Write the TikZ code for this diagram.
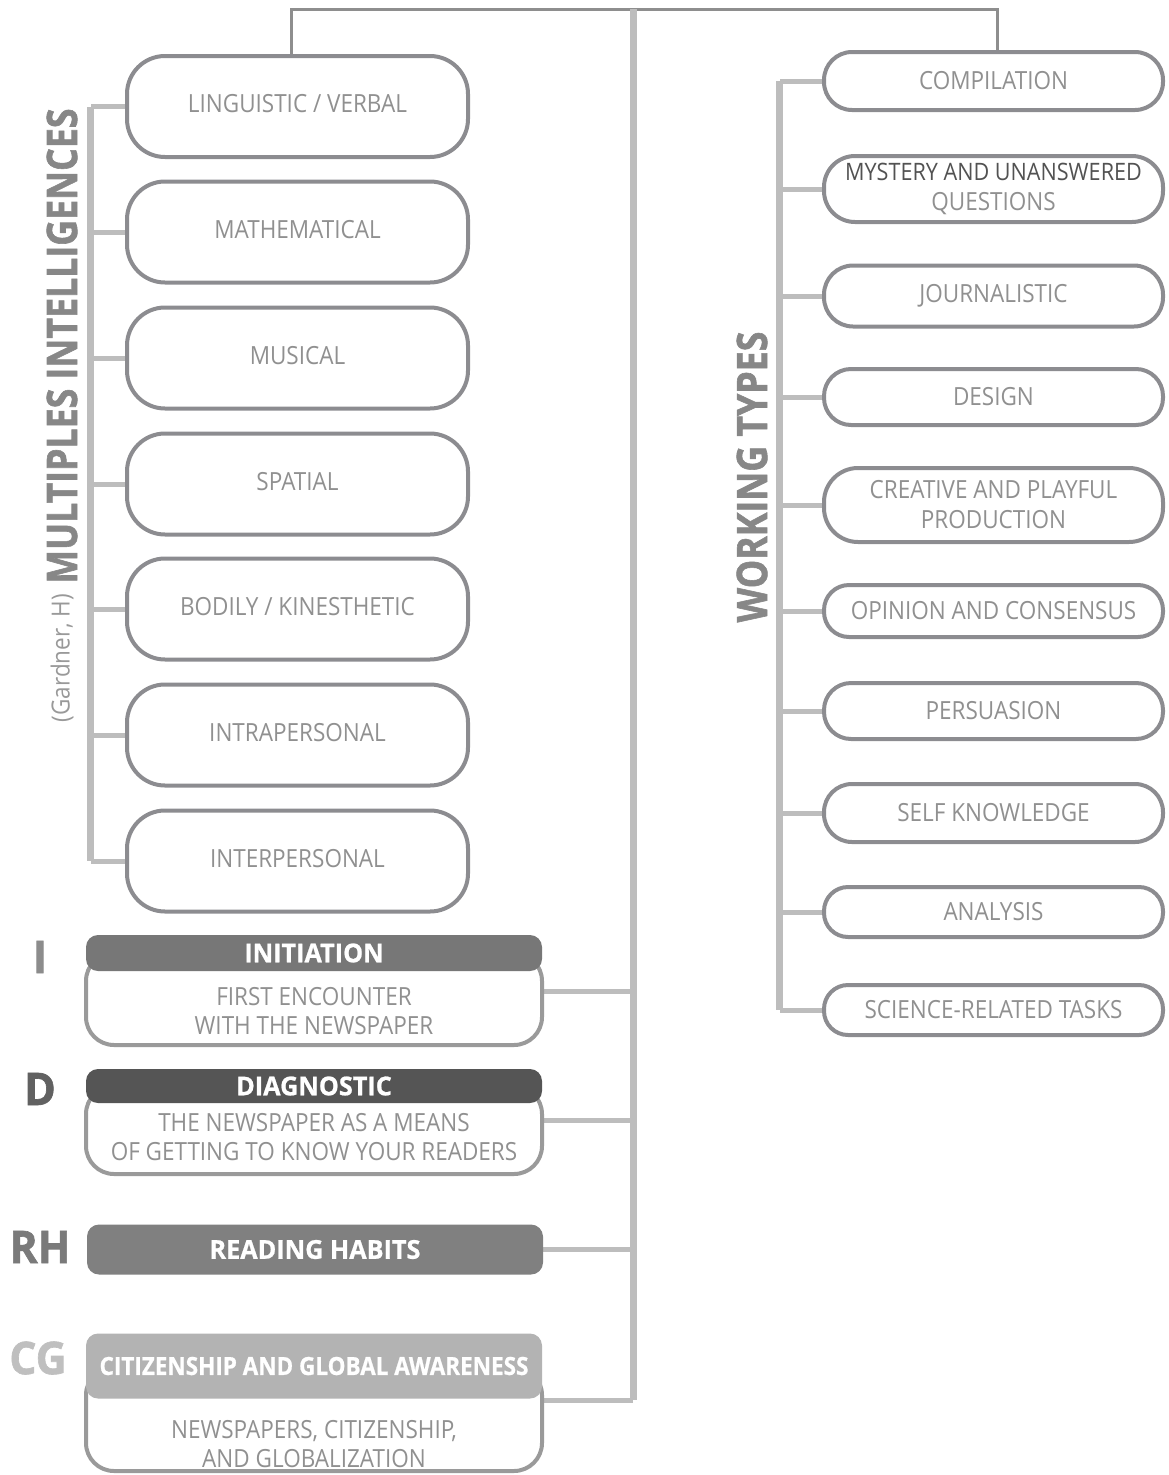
\documentclass[tikz,border=0pt]{standalone}
\usepackage{fontspec}
\setmainfont{Open Sans}
\newfontfamily\lightf[FakeStretch=0.9]{Open Sans}
\newfontfamily\boldf[FakeStretch=0.9,BoldFeatures={FakeBold=0.8}]{Open Sans}
\newfontfamily\boldw[FakeStretch=0.97,BoldFeatures={FakeBold=0.8}]{Open Sans}
\newfontfamily\heavyf[FakeStretch=0.85,BoldFeatures={FakeBold=1.4}]{Open Sans}
\newfontfamily\letf[FakeStretch=0.95,BoldFeatures={FakeBold=1.4}]{Open Sans}
\usetikzlibrary{backgrounds}
\definecolor{boxc}{HTML}{8C8C90}
\definecolor{barc}{HTML}{BDBDBD}
\definecolor{topc}{HTML}{8E8E8E}
\definecolor{txtc}{HTML}{909090}
\definecolor{titc}{HTML}{878787}
\definecolor{bodyc}{HTML}{9A9A9A}
\definecolor{hdrI}{HTML}{777777}
\definecolor{hdrD}{HTML}{555555}
\definecolor{hdrR}{HTML}{808080}
\definecolor{hdrC}{HTML}{B3B3B3}
\tikzset{
  lbox/.style={draw=boxc, line width=4pt, rounded corners=38pt, minimum width=341pt,
    minimum height=101pt, inner sep=0pt, fill=white, text=txtc,
    text height=18pt, text depth=6pt,
    font=\lightf\fontsize{25}{30}\selectfont},
  rbox/.style={draw=boxc, line width=4pt, minimum width=339pt,
    inner sep=0pt, fill=white, text=txtc, align=center,
    font=\lightf\fontsize{25}{30}\selectfont},
  vbar/.style={draw=barc, line width=7pt},
  branch/.style={draw=barc, line width=5pt},
  topline/.style={draw=topc, line width=3pt},
  hdr/.style={rounded corners=12pt, minimum width=456pt, inner sep=0pt, text=white,
    font=\boldw\bfseries\fontsize{26}{28}\selectfont},
  bodybox/.style={draw=bodyc, line width=4pt, fill=white, rounded corners=28pt,
    minimum width=456pt, inner sep=0pt},
  btxt/.style={text=txtc, align=center, inner sep=0pt, font=\lightf\fontsize{25}{29}\selectfont},
  vtitle/.style={rotate=90, text=titc, inner sep=0pt, font=\heavyf\bfseries\fontsize{42}{42}\selectfont},
  letter/.style={inner sep=0pt, font=\letf\bfseries\fontsize{45}{45}\selectfont},
}
\begin{document}
\begin{tikzpicture}[x=1pt,y=-1pt]
\useasboundingbox (0,0) rectangle (1168,1475);

% left column boxes
\node[lbox] (l1) at (297.5,106.5) {LINGUISTIC / VERBAL};
\node[lbox] (l2) at (297.5,232) {MATHEMATICAL};
\node[lbox] (l3) at (297.5,358) {MUSICAL};
\node[lbox] (l4) at (297.5,484) {SPATIAL};
\node[lbox] (l5) at (297.5,609) {BODILY / KINESTHETIC};
\node[lbox] (l6) at (297.5,735) {INTRAPERSONAL};
\node[lbox] (l7) at (297.5,861) {INTERPERSONAL};

% right column boxes
\node[rbox, minimum height=58pt, rounded corners=28pt] (r1) at (993.5,81) {COMPILATION};
\node[rbox, minimum height=66pt, rounded corners=31pt] (r2) at (993.5,189) {{\fontsize{24}{30}\selectfont\textcolor{black!68}{MYSTERY AND UNANSWERED}}\\QUESTIONS};
\node[rbox, minimum height=61pt, rounded corners=29pt] (r3) at (993.5,296) {JOURNALISTIC};
\node[rbox, minimum height=56pt, rounded corners=27pt] (r4) at (993.5,397) {DESIGN};
\node[rbox, minimum height=74pt, rounded corners=34pt] (r5) at (993.5,505) {CREATIVE AND PLAYFUL\\PRODUCTION};
\node[rbox, minimum height=52pt, rounded corners=25pt] (r6) at (993.5,611) {OPINION AND CONSENSUS};
\node[rbox, minimum height=56pt, rounded corners=27pt] (r7) at (993.5,711) {PERSUASION};
\node[rbox, minimum height=58pt, rounded corners=28pt] (r8) at (993.5,813) {SELF KNOWLEDGE};
\node[rbox, minimum height=50pt, rounded corners=24pt] (r9) at (993.5,912) {ANALYSIS};
\node[rbox, minimum height=50pt, rounded corners=24pt] (r10) at (993.5,1010) {SCIENCE-RELATED TASKS};

% titles
\node[vtitle] (tmi) at (62,346) {MULTIPLES INTELLIGENCES};
\node[vtitle, text=black!40, font=\lightf\fontsize{25}{25}\selectfont] (tg) at (62,658) {(Gardner, H)};
\node[vtitle] (twt) at (752,477) {WORKING TYPES};

% bottom boxes
\node[bodybox, minimum height=92pt] (bI) at (314,999) {};
\node[hdr, fill=hdrI, minimum height=36pt] (hI) at (314,953) {INITIATION};
\node[btxt] (xI) at (314,1011.5) {FIRST ENCOUNTER\\WITH THE NEWSPAPER};

\node[bodybox, minimum height=88pt] (bD) at (314,1130) {};
\node[hdr, fill=hdrD, minimum height=34pt] (hD) at (314,1086) {DIAGNOSTIC};
\node[btxt] (xD) at (314,1137.5) {THE NEWSPAPER AS A MEANS\\OF GETTING TO KNOW YOUR READERS};

\node[hdr, fill=hdrR, minimum height=50pt, minimum width=456pt] (hR) at (315,1249.5) {READING HABITS};

\node[bodybox, minimum height=104pt] (bC) at (314,1419) {};
\node[hdr, fill=hdrC, minimum height=65pt, font=\boldf\bfseries\fontsize{25}{28}\selectfont] (hC) at (314,1366) {CITIZENSHIP AND GLOBAL AWARENESS};
\node[btxt] (xC) at (314,1444) {NEWSPAPERS, CITIZENSHIP,\\AND GLOBALIZATION};

% letters
\node[letter, text=black!45] (kI) at (40,957) {I};
\node[letter, text=black!62] (kD) at (40,1089) {D};
\node[letter, text=black!52] (kR) at (40,1247) {RH};
\node[letter, text=black!25] (kC) at (38,1358) {CG};

% connectors
\coordinate (lb) at (90.5,0);
\coordinate (rb) at (779.5,0);
\coordinate (ctop) at (633,9);
\coordinate (cbot) at (633,1400);
\begin{pgfonlayer}{background}
  \draw[topline] ([xshift=-6.5pt]l1.north) -- ([xshift=-6.5pt]l1.north |- ctop) -| ([xshift=3.5pt]r1.north);
  \draw[vbar] (ctop) -- (cbot);
  \draw[branch] (cbot) -- ([yshift=19pt]bC.east);
  \draw[branch] ([yshift=8pt]bI.east) -- ([yshift=8pt]bI.east -| ctop);
  \draw[branch] ([yshift=10pt]bD.east) -- ([yshift=10pt]bD.east -| ctop);
  \draw[branch] (hR.east) -- (hR.east -| ctop);
  \draw[vbar] (l1.west -| lb) -- (l7.west -| lb);
  \foreach \n in {l1,l2,l3,l4,l5,l6,l7} \draw[branch] (\n.west) -- (\n.west -| lb);
  \draw[vbar] (r1.west -| rb) -- (r10.west -| rb);
  \foreach \n in {r1,r2,r3,r4,r5,r6,r7,r8,r9,r10} \draw[branch] (\n.west) -- (\n.west -| rb);
\end{pgfonlayer}
\end{tikzpicture}
\end{document}
